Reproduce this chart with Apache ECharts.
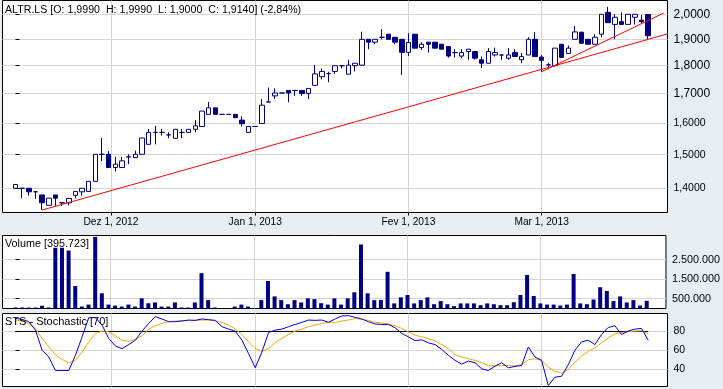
<!DOCTYPE html>
<html><head><meta charset="utf-8">
<script src="https://cdn.jsdelivr.net/npm/echarts@6/dist/echarts.min.js"></script>
<style>html,body{margin:0;padding:0;background:#e8edf1;} #c{width:723px;height:389px;}</style>
</head><body><div id="c"></div>
<script>
// ---------------- data ----------------
const symbol = 'ALTR.LS';
const dates = [
 '2012-11-12','2012-11-13','2012-11-14','2012-11-15','2012-11-16',
 '2012-11-19','2012-11-20','2012-11-21','2012-11-22','2012-11-23',
 '2012-11-26','2012-11-27','2012-11-28','2012-11-29','2012-11-30',
 '2012-12-03','2012-12-04','2012-12-05','2012-12-06','2012-12-07',
 '2012-12-10','2012-12-11','2012-12-12','2012-12-13','2012-12-14',
 '2012-12-17','2012-12-18','2012-12-19','2012-12-20','2012-12-21',
 '2012-12-24','2012-12-25','2012-12-26','2012-12-27','2012-12-28',
 '2012-12-31','2013-01-01','2013-01-02','2013-01-03','2013-01-04',
 '2013-01-07','2013-01-08','2013-01-09','2013-01-10','2013-01-11',
 '2013-01-14','2013-01-15','2013-01-16','2013-01-17','2013-01-18',
 '2013-01-21','2013-01-22','2013-01-23','2013-01-24','2013-01-25',
 '2013-01-28','2013-01-29','2013-01-30','2013-01-31','2013-02-01',
 '2013-02-04','2013-02-05','2013-02-06','2013-02-07','2013-02-08',
 '2013-02-11','2013-02-12','2013-02-13','2013-02-14','2013-02-15',
 '2013-02-18','2013-02-19','2013-02-20','2013-02-21','2013-02-22',
 '2013-02-25','2013-02-26','2013-02-27','2013-02-28','2013-03-01',
 '2013-03-04','2013-03-05','2013-03-06','2013-03-07','2013-03-08',
 '2013-03-11','2013-03-12','2013-03-13','2013-03-14','2013-03-15',
 '2013-03-18','2013-03-19','2013-03-20','2013-03-21','2013-03-22',
 '2013-03-25'
];
const opens = [1.400,1.400,1.400,1.390,1.381, 1.352,1.381,1.359,1.359,1.380, 1.390,1.391,1.420,1.501,1.501,
 1.461,1.461,1.493,1.491,1.501, 1.532,1.570,1.570,1.562,1.551, 1.570,1.570,1.580,1.589,1.629,
 1.651,1.629,1.629,1.629,1.610, 1.570,1.589,1.599,1.671,1.692, 1.702,1.711,1.711,1.711,1.700,
 1.729,1.760,1.771,1.779,1.800, 1.769,1.800,1.802,1.900,1.889, 1.908,1.920,1.908,1.900,1.850,
 1.920,1.868,1.889,1.889,1.881, 1.872,1.849,1.836,1.853,1.853, 1.822,1.809,1.840,1.840,1.828,
 1.849,1.822,1.840,1.900,1.832, 1.803,1.800,1.881,1.846,1.900, 1.928,1.900,1.881,1.920,2.008,
 1.959,1.970,1.959,1.988,1.976, 1.999];
const highs = [1.412,1.400,1.400,1.390,1.381, 1.372,1.381,1.359,1.371,1.391, 1.400,1.420,1.501,1.552,1.511,
 1.493,1.493,1.501,1.512,1.552, 1.581,1.591,1.581,1.570,1.580, 1.581,1.580,1.610,1.640,1.671,
 1.651,1.629,1.629,1.629,1.623, 1.591,1.589,1.681,1.721,1.718, 1.702,1.711,1.711,1.711,1.718,
 1.803,1.790,1.778,1.800,1.800, 1.822,1.809,1.930,1.900,1.900, 1.940,1.920,1.908,1.900,1.924,
 1.920,1.889,1.889,1.889,1.881, 1.872,1.862,1.862,1.862,1.853, 1.834,1.866,1.868,1.840,1.866,
 1.862,1.847,1.908,1.928,1.840, 1.811,1.866,1.881,1.876,1.953, 1.928,1.900,1.920,2.000,2.031,
 2.000,2.008,2.000,2.000,1.997, 1.999];
const lows = [1.400,1.372,1.379,1.370,1.339, 1.352,1.350,1.350,1.352,1.371, 1.379,1.391,1.420,1.480,1.461,
 1.449,1.461,1.471,1.491,1.501, 1.532,1.532,1.560,1.551,1.551, 1.551,1.570,1.570,1.589,1.629,
 1.629,1.629,1.629,1.618,1.589, 1.570,1.589,1.599,1.671,1.681, 1.702,1.670,1.692,1.692,1.681,
 1.729,1.750,1.740,1.770,1.790, 1.769,1.779,1.800,1.862,1.881, 1.900,1.900,1.881,1.766,1.836,
 1.865,1.859,1.849,1.865,1.862, 1.830,1.830,1.828,1.822,1.822, 1.791,1.809,1.834,1.822,1.822,
 1.834,1.809,1.840,1.834,1.778, 1.787,1.797,1.831,1.846,1.900, 1.882,1.881,1.881,1.908,1.966,
 1.900,1.959,1.959,1.959,1.962, 1.900];
const closes = [1.411,1.400,1.390,1.390,1.359, 1.372,1.372,1.359,1.371,1.391, 1.400,1.420,1.501,1.501,1.461,
 1.471,1.481,1.493,1.501,1.552, 1.570,1.570,1.570,1.562,1.580, 1.570,1.580,1.591,1.640,1.651,
 1.629,1.629,1.629,1.618,1.598, 1.589,1.589,1.660,1.671,1.702, 1.702,1.702,1.711,1.700,1.718,
 1.770,1.779,1.771,1.800,1.800, 1.802,1.809,1.900,1.889,1.900, 1.908,1.900,1.889,1.850,1.888,
 1.866,1.881,1.881,1.866,1.862, 1.836,1.849,1.849,1.862,1.828, 1.809,1.853,1.849,1.840,1.840,
 1.834,1.834,1.900,1.834,1.820, 1.803,1.866,1.831,1.866,1.929, 1.885,1.881,1.908,2.000,1.966,
 1.988,1.959,2.000,2.000,1.970, 1.914];
const volumes = [50000,50000,50000,50000,140000, 50000,3110000,3110000,2970000,1150000,
 100000,200000,3670000,780000,200000, 150000,100000,200000,100000,520000,
 270000,310000,100000,100000,310000, 50000,50000,310000,1810000,430000,
 50000,0,0,100000,200000, 100000,0,430000,1410000,620000,
 430000,220000,430000,310000,520000, 480000,270000,200000,520000,200000,
 520000,830000,3280000,780000,430000, 430000,1880000,260000,570000,690000,
 260000,430000,570000,220000,380000, 220000,120000,260000,260000,260000,
 170000,260000,220000,170000,170000, 320000,690000,1720000,640000,260000,
 200000,200000,150000,200000,1770000, 260000,220000,460000,1090000,900000,
 380000,620000,310000,430000,150000, 395723];
const stochK = [93.8,92.7,90.3,81.4,60.2, 53.1,38.9,38.9,38.9,54.9, 74.3,94.5,94.5,86.7,72.6,
 64.8,61.9,66.2,70.8,80.4, 88.5,95.6,93.1,90.3,90.3, 91.0,92.0,91.7,93.1,92.4,
 91.7,85.0,82.5,80.4,70.8, 56.6,41.8,58.4,78.9,81.4, 82.5,85.0,87.4,89.6,92.0,
 91.7,92.0,89.6,93.1,96.3, 96.6,94.9,93.1,90.3,87.8, 87.4,87.4,83.9,77.9,74.3,
 70.4,71.2,68.0,66.2,61.2, 54.9,49.6,45.7,48.8,47.1, 40.7,38.9,43.5,47.1,41.8,
 43.2,44.2,63.7,53.1,49.6, 23.0,31.9,32.9,45.0,60.2, 69.0,70.8,66.2,76.8,84.2,
 86.0,76.8,80.4,82.5,83.2, 70.8];
const stochD = [92.0,91.0,88.5,83.2,72.6, 63.7,55.6,50.6,47.1,49.6, 58.4,69.0,77.9,80.4,79.6,
 75.4,70.8,69.7,71.9,75.4, 82.5,86.0,88.5,90.3,91.0, 91.3,91.3,91.7,92.0,92.0,
 91.0,89.6,86.7,82.5,76.8, 69.0,61.9,59.1,61.9,68.3, 72.6,76.8,80.4,82.5,85.0,
 86.7,88.5,89.6,89.6,91.0, 92.0,93.8,92.7,91.7,89.6, 88.9,87.8,86.0,83.2,79.6,
 76.1,74.3,72.6,70.1,66.2, 61.9,55.6,53.1,51.3,49.6, 47.1,44.2,43.9,44.2,44.2,
 43.9,45.0,50.3,51.3,49.6, 42.5,38.2,36.1,40.0,47.8, 54.2,59.1,62.7,68.0,73.3,
 77.5,78.9,79.6,80.4,80.7, 77.5];
const stochPeriod = 70;
const stochLevel = 80;
const priceTicks = [1.4,1.5,1.6,1.7,1.8,1.9,2.0];
const priceRange = [1.3322, 2.0574];
const volumeTicks = [500000,1500000,2500000];
const volumeRange = [0, 3740000];
const stochTicks = [40,60,80];
const stochRange = [22.1, 98.9];
const slotRange = [-1.95, 97.9];
const monthTicks = ['2012-12-01','2013-01-01','2013-02-01','2013-03-01'];
const monthLabels = ['Dez 1, 2012','Jan 1, 2013','Fev 1, 2013','Mar 1, 2013'];
const trendA = [['2012-11-16',1.339],['2013-03-25',1.900]];
const trendB = [['2013-03-01',1.778],['2013-03-22',1.962]];

// ---------------- helpers ----------------
const ln = Math.log;
const dayMs = d => Date.parse(d + 'T00:00:00Z');
function slotOf(ds){
  const t = dayMs(ds);
  let k = 0; for (const d of dates) if (dayMs(d) < t) k++;
  const dow = new Date(t).getUTCDay();
  if (dow === 6) return k - 1 + 1/3;
  if (dow === 0) return k - 1 + 2/3;
  return k;
}
const fmtPrice = p => p.toFixed(4).replace('.', ',');
const fmtVol = v => String(Math.round(v)).replace(/\B(?=(\d{3})+(?!\d))/g, '.');
const N = dates.length;
const last = N - 1;
const pct = (closes[last] / closes[last-1] - 1) * 100;
const header = symbol + ' [O: ' + fmtPrice(opens[last]) + '  H: ' + fmtPrice(highs[last]) +
  '  L: ' + fmtPrice(lows[last]) + '  C: ' + fmtPrice(closes[last]) + '] (' +
  pct.toFixed(2).replace('.', ',') + '%)';

const monthSlots = monthTicks.map(slotOf);
const candleData = dates.map((d,i)=>[i, ln(opens[i]), ln(closes[i]), ln(lows[i]), ln(highs[i])]);
const volData = volumes.map((v,i)=>[i, v]).filter(p=>p[1]>0);
const kData = stochK.map((v,i)=>[i,v]);
const dData = stochD.map((v,i)=>[i,v]);
const levelData = [[0, stochLevel],[last, stochLevel]];

const FONT = '"Liberation Sans", Arial, sans-serif';
const GRID_LINE = {show:true, lineStyle:{color:'#d4d4d4', width:1}};
const grids = [
  {left:2.5, top:0.5, width:665, height:212},
  {left:2.5, top:235.5, width:665, height:73},
  {left:2.5, top:313.5, width:665, height:73}
].map(g=>Object.assign(g,{show:true, backgroundColor:'#ffffff', borderColor:'#000000', borderWidth:1, containLabel:false}));

function xAx(gi, withLabels){
  return {
    type:'value', gridIndex:gi, min:slotRange[0], max:slotRange[1], position:'bottom',
    axisLine:{show:false},
    axisTick:{show:withLabels, customValues:monthSlots, length:3, lineStyle:{color:'#000'}},
    axisLabel:{show:withLabels, customValues:monthSlots, margin:5, fontSize:10.2, fontFamily:FONT, color:'#000',
      formatter:v=>{const k=monthSlots.findIndex(s=>Math.abs(s-v)<1e-6); return k>=0?monthLabels[k]:'';}},
    splitLine:GRID_LINE
  };
}
function yAx(gi, min, max, ticks, fmt, fs, rich){
  return {
    type:'value', gridIndex:gi, position:'right', min:min, max:max, scale:true,
    axisLine:{show:false},
    axisTick:{show:true, customValues:ticks, length:4, lineStyle:{color:'#000'}},
    axisLabel:{show:true, customValues:ticks, margin:6, fontSize:fs, fontFamily:FONT, color:'#000', formatter:fmt, rich:rich},
    splitLine:GRID_LINE
  };
}
// price labels: upper ticks drawn in a larger size, as in the source chart
const priceLabel = v => { const p = Math.exp(v); return (p >= 1.65 ? '{b|' : '{s|') + fmtPrice(p) + '}'; };
const priceRich = {b:{fontSize:12, fontFamily:FONT, color:'#000'}, s:{fontSize:10.5, fontFamily:FONT, color:'#000'}};

const chart = echarts.init(document.getElementById('c'), null, {renderer:'canvas', width:723, height:389});

function trendSeries(anchor, endSlot){
  const x0 = slotOf(anchor[0][0]), x1 = slotOf(anchor[1][0]);
  const y0 = ln(anchor[0][1]), y1 = ln(anchor[1][1]);
  const slope = (y1-y0)/(x1-x0);
  return {type:'line', xAxisIndex:0, yAxisIndex:0, data:[[x0,y0],[endSlot, y0+slope*(endSlot-x0)]],
    showSymbol:false, symbol:'none', clip:false, silent:true, z:5,
    lineStyle:{color:'#ff0000', width:1}, animation:false};
}
function label(text, x, y, size){
  return {type:'text', left:x, top:y, silent:true, z:100,
    style:{text:text, font:'normal ' + size + 'px ' + FONT, fill:'#000'}};
}

const option = {
  animation:false,
  backgroundColor:'#e8edf1',
  textStyle:{fontFamily:FONT},
  graphic:[
    label(header, 5, 4.5, 10.65),
    label('Volume [' + fmtVol(volumes[last]) + ']', 5, 238.5, 10.8),
    label('STS - Stochastic [' + stochPeriod + ']', 5, 316, 11)
  ],
  grid:grids,
  xAxis:[xAx(0,true), xAx(1,false), xAx(2,false)],
  yAxis:[
    yAx(0, ln(priceRange[0]), ln(priceRange[1]), priceTicks.map(ln), priceLabel, 11, priceRich),
    yAx(1, volumeRange[0], volumeRange[1], volumeTicks, v=>fmtVol(v), 10.8),
    yAx(2, stochRange[0], stochRange[1], stochTicks, v=>String(Math.round(v)), 10.5)
  ],
  series:[
    {type:'candlestick', name:symbol, xAxisIndex:0, yAxisIndex:0, data:candleData,
      encode:{x:0, y:[1,2,3,4]}, barWidth:5, z:3,
      itemStyle:{color:'#ffffff', color0:'#000080', borderColor:'#000080', borderColor0:'#000080', borderColorDoji:'#000080', borderWidth:1}},
    {type:'bar', name:'Volume', xAxisIndex:1, yAxisIndex:1, data:volData, barWidth:4,
      itemStyle:{color:'#000080'}},
    {type:'line', name:'level', xAxisIndex:2, yAxisIndex:2, data:levelData, showSymbol:false, symbol:'none',
      lineStyle:{color:'#000000', width:1}},
    {type:'line', name:'%D', xAxisIndex:2, yAxisIndex:2, data:dData, showSymbol:false, symbol:'none',
      lineStyle:{color:'#f5a800', width:1}},
    {type:'line', name:'%K', xAxisIndex:2, yAxisIndex:2, data:kData, showSymbol:false, symbol:'none',
      lineStyle:{color:'#0000ee', width:1}}
  ]
};
chart.setOption(option);
const edgeSlot = chart.convertFromPixel({gridIndex:0}, [723, 0])[0];
const plotEdgeSlot = chart.convertFromPixel({gridIndex:0}, [663.5, 0])[0];
chart.setOption({series:[
  option.series[0], option.series[1], option.series[2], option.series[3], option.series[4],
  trendSeries(trendA, edgeSlot), trendSeries(trendB, plotEdgeSlot)
]});
</script></body></html>
